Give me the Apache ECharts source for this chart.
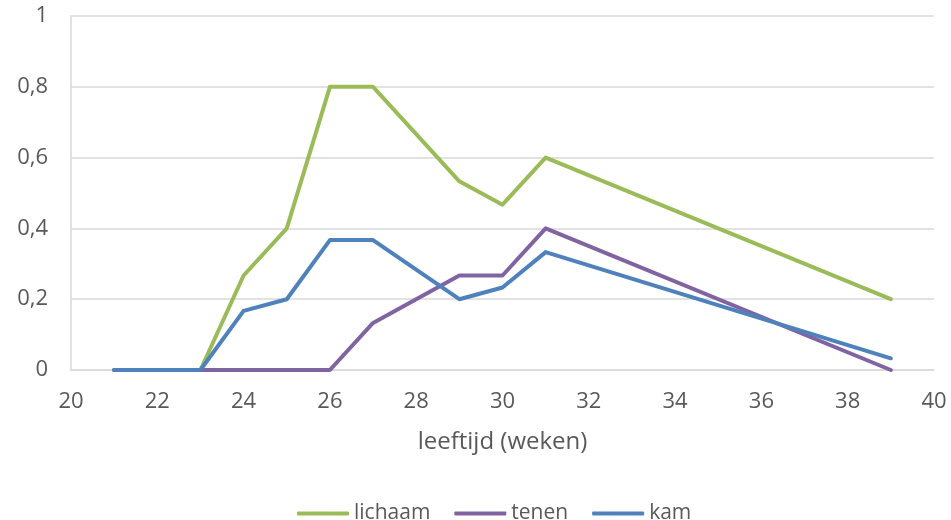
<!DOCTYPE html>
<html>
<head>
<meta charset="utf-8">
<script src="https://cdn.jsdelivr.net/npm/echarts@6/dist/echarts.min.js"></script>
<style>
  html, body { margin: 0; padding: 0; background: #fff; }
  #chart { width: 951px; height: 520px; }
</style>
</head>
<body>
<div id="chart"></div>
<script>
// Data
const weeks = [21, 22, 23, 24, 25, 26, 27, 29, 30, 31, 39];
const lichaam = [0, 0, 0, 0.267, 0.4, 0.8, 0.8, 0.533, 0.467, 0.6, 0.2];
const tenen = [0, 0, 0, 0, 0, 0, 0.133, 0.267, 0.267, 0.4, 0];
const kam = [0, 0, 0, 0.167, 0.2, 0.367, 0.367, 0.2, 0.233, 0.333, 0.033];

const seriesNames = ['lichaam', 'tenen', 'kam'];
const seriesValues = [lichaam, tenen, kam];
const colors = ['#9BBB59', '#8064A2', '#4F81BD'];

function pairs(values) {
  const result = [];
  for (let i = 0; i < weeks.length; i++) {
    result.push([weeks[i], values[i]]);
  }
  return result;
}

const chart = echarts.init(document.getElementById('chart'));

const fontFamily = 'Open Sans, sans-serif';

const option = {
  animation: false,
  color: colors,
  grid: {
    left: 71,
    right: 17,
    top: 16,
    bottom: 150
  },
  legend: {
    top: 498,
    left: 292,
    itemWidth: 52,
    itemHeight: 4,
    itemGap: 24,
    icon: 'roundRect',
    textStyle: { color: '#595959', fontSize: 21, fontFamily: fontFamily },
    data: seriesNames
  },
  xAxis: {
    type: 'value',
    min: 20,
    max: 40,
    interval: 2,
    name: 'leeftijd (weken)',
    nameLocation: 'middle',
    nameGap: 60,
    nameTextStyle: { color: '#595959', fontSize: 24, fontFamily: fontFamily },
    axisLine: { show: true, lineStyle: { color: '#d9d9d9', width: 1.5 } },
    axisTick: { show: false },
    splitLine: { show: false },
    axisLabel: { margin: 21, color: '#595959', fontSize: 22, fontFamily: fontFamily }
  },
  yAxis: {
    type: 'value',
    min: 0,
    max: 1,
    interval: 0.2,
    axisLine: { show: true, lineStyle: { color: '#d9d9d9', width: 1.5 } },
    axisTick: { show: false },
    splitLine: { lineStyle: { color: '#d9d9d9', width: 1.5 } },
    axisLabel: {
      margin: 23,
      color: '#595959',
      fontSize: 22,
      fontFamily: fontFamily,
      formatter: function (v) {
        return String(Math.round(v * 10) / 10).replace('.', ',');
      }
    }
  },
  series: seriesNames.map(function (name, i) {
    return {
      name: name,
      type: 'line',
      data: pairs(seriesValues[i]),
      showSymbol: false,
      symbol: 'none',
      lineStyle: { width: 4, cap: 'round', join: 'round' }
    };
  })
};

chart.setOption(option);
</script>
</body>
</html>
